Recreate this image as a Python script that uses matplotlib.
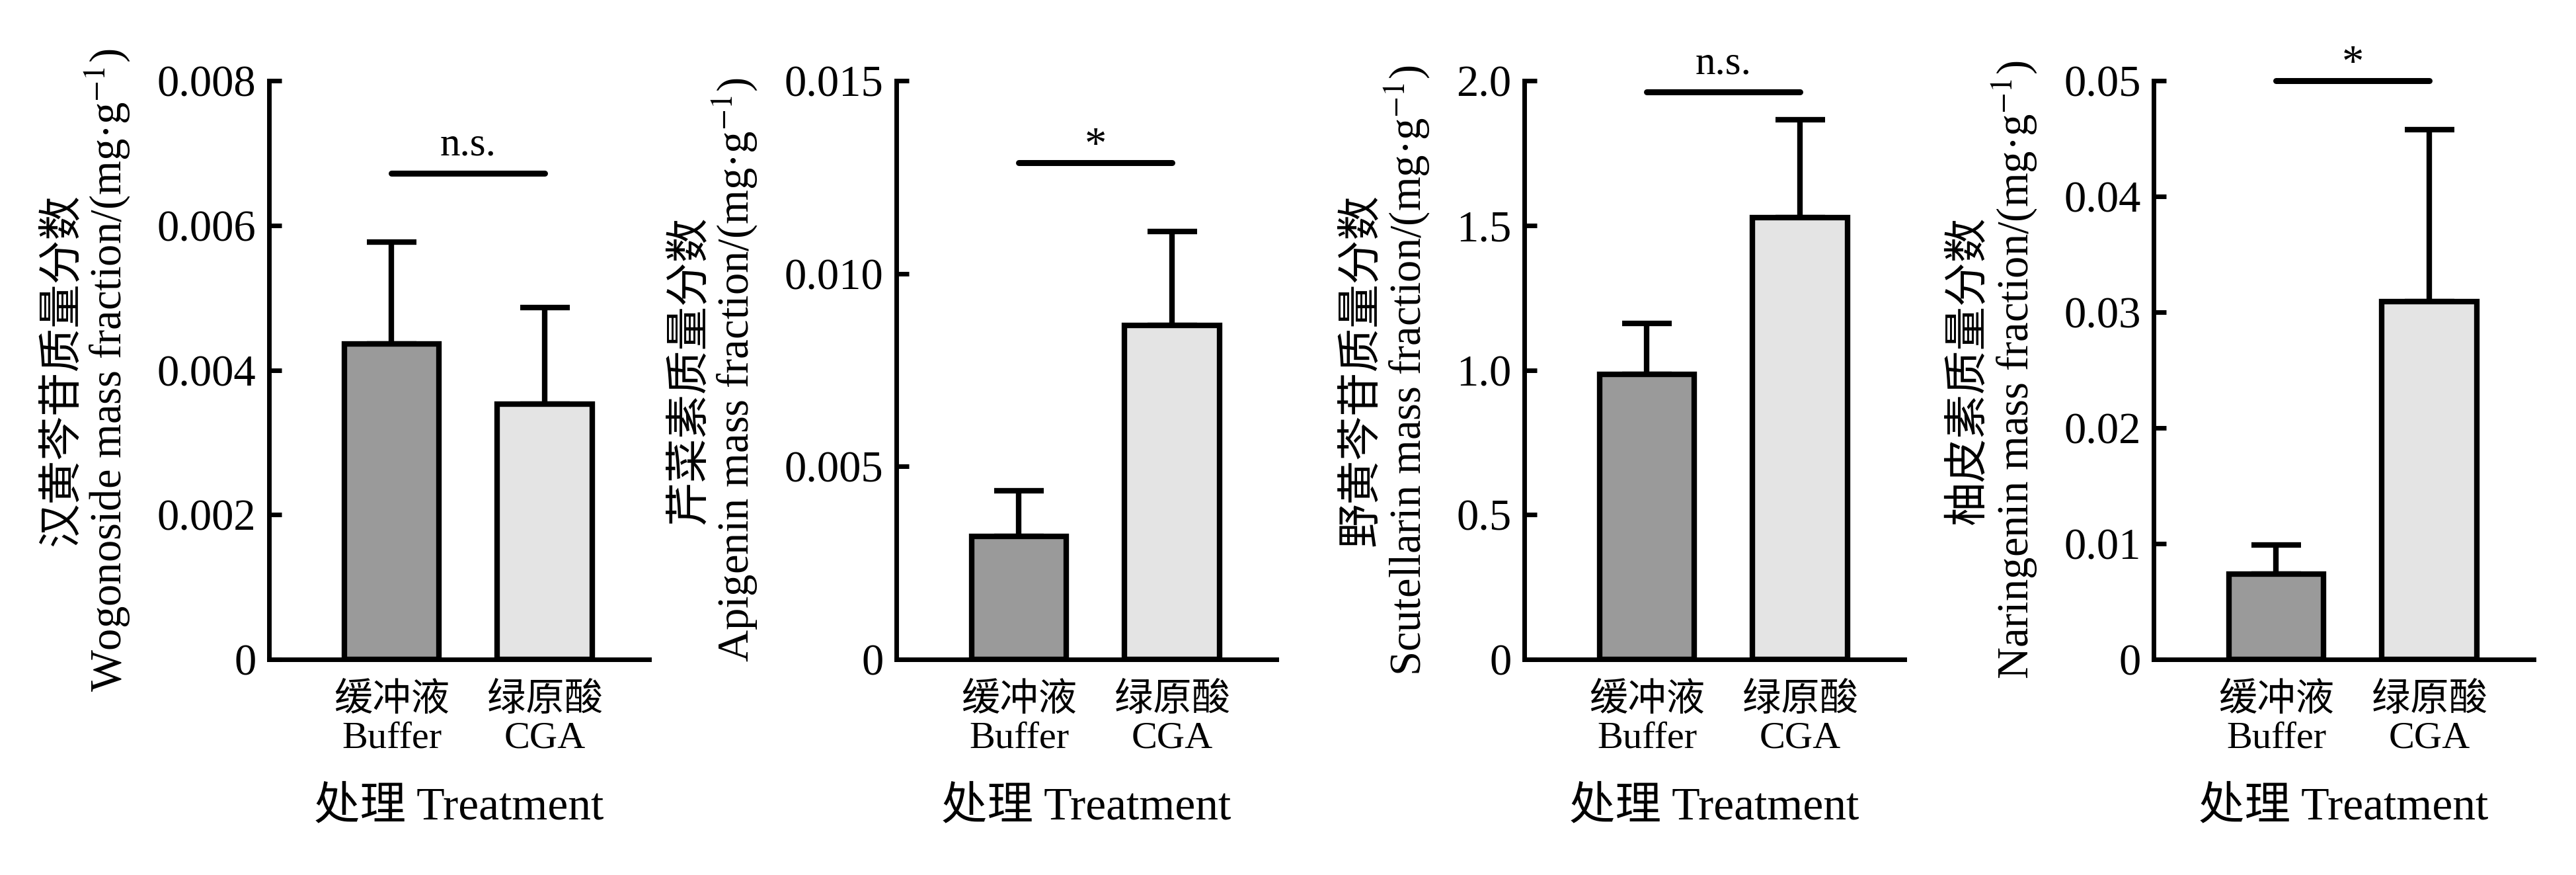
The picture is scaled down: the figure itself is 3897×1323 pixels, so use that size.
import matplotlib.pyplot as plt
import numpy as np

plt.rcParams['font.family'] = ['Liberation Serif', 'Noto Sans CJK SC']
plt.rcParams['mathtext.fontset'] = 'stix'

# data
groups = ['缓冲液\nBuffer', '绿原酸\nCGA']
cn_labels = ['汉黄芩苷质量分数', '芹菜素质量分数', '野黄芩苷质量分数', '柚皮素质量分数']
en_labels = ['Wogonoside', 'Apigenin', 'Scutellarin', 'Naringenin']
means = [[0.00436, 0.00353],
         [0.00319, 0.00866],
         [0.985, 1.528],
         [0.00737, 0.0309]]
errs = [[0.00141, 0.00133],
        [0.00118, 0.00243],
        [0.177, 0.337],
        [0.0025, 0.0149]]
sig_labels = ['n.s.', '*', 'n.s.', '*']
sig_y = [0.00672, 0.01287, 1.961, 0.05]
ymax = [0.008, 0.015, 2.0, 0.05]
yticks = [[0, 0.002, 0.004, 0.006, 0.008],
          [0, 0.005, 0.010, 0.015],
          [0, 0.5, 1.0, 1.5, 2.0],
          [0, 0.01, 0.02, 0.03, 0.04, 0.05]]
ytick_labels = [['0', '0.002', '0.004', '0.006', '0.008'],
                ['0', '0.005', '0.010', '0.015'],
                ['0', '0.5', '1.0', '1.5', '2.0'],
                ['0', '0.01', '0.02', '0.03', '0.04', '0.05']]
bar_colors = ['#9a9a9a', '#e4e4e4']

W, H = 3898, 1323
fig = plt.figure(figsize=(W / 100, H / 100), dpi=100)
lefts = [407, 1356, 2306, 3258]
x = np.arange(len(groups))

for i in range(4):
    ax = fig.add_axes([lefts[i] / W, 326 / H, 575 / W, 875 / H])
    ax.bar(x, means[i], width=0.62, color=bar_colors, edgecolor='black',
           linewidth=6, zorder=3)
    ax.errorbar(x, means[i], yerr=[np.zeros(len(x)), errs[i]], fmt='none',
                ecolor='black', elinewidth=6, capsize=27, capthick=6, zorder=2)
    ax.plot([0, 1], [sig_y[i], sig_y[i]], color='black', lw=6.5,
            solid_capstyle='round', clip_on=False)
    off = 20 if sig_labels[i] == 'n.s.' else 6
    ax.annotate(sig_labels[i], xy=(0.5, sig_y[i]), xytext=(0, off),
                textcoords='offset points', ha='center', va='baseline',
                fontsize=44 if sig_labels[i] == 'n.s.' else 48,
                annotation_clip=False)

    ax.set_xlim(-0.8, 1.68)
    ax.set_ylim(0, ymax[i])
    ax.set_yticks(yticks[i], ytick_labels[i])
    ax.set_xticks(x, groups)
    for t in ax.get_xticklabels():
        t.set_linespacing(1.12)
    for s in ['top', 'right']:
        ax.spines[s].set_visible(False)
    for s in ['left', 'bottom']:
        ax.spines[s].set_linewidth(5)
    ax.tick_params(axis='y', direction='in', length=13.5, width=5, pad=14,
                   labelsize=48)
    ax.tick_params(axis='x', length=0, pad=25, labelsize=42)
    ax.set_xlabel('处理 Treatment', fontsize=50, labelpad=34)
    ax.set_ylabel(cn_labels[i] + '\n' + en_labels[i] +
                  ' mass fraction/(mg·g$^{-1}$)',
                  fontsize=48, labelpad=27, linespacing=1.0)

fig.savefig('out.png', dpi=100)
